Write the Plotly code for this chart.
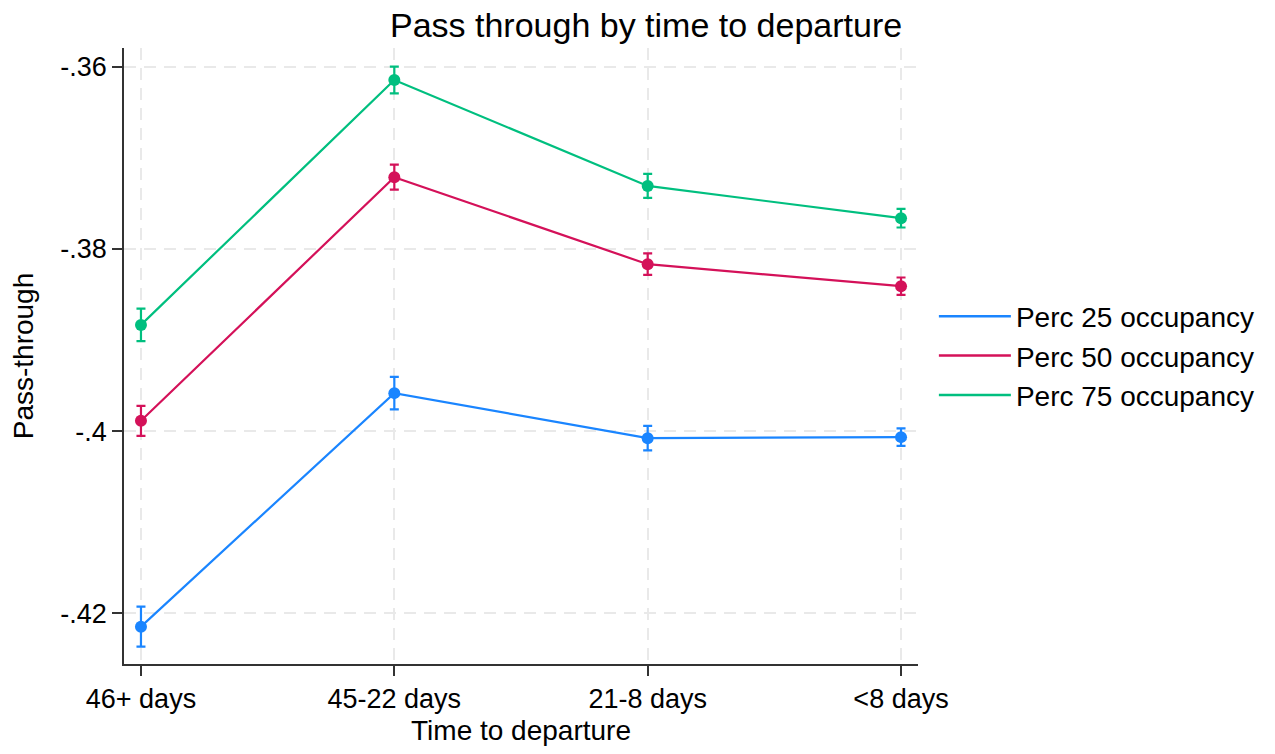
import plotly.graph_objects as go

categories = ["46+ days", "45-22 days", "21-8 days", "<8 days"]
series_names = ["Perc 25 occupancy", "Perc 50 occupancy", "Perc 75 occupancy"]
p25 = [-0.42146, -0.39583, -0.40077, -0.40066]
p25_err = [0.00219, 0.00179, 0.00135, 0.00097]
p50 = [-0.39887, -0.37213, -0.38168, -0.38409]
p50_err = [0.00165, 0.00137, 0.00118, 0.00095]
p75 = [-0.38834, -0.36146, -0.37309, -0.37663]
p75_err = [0.00178, 0.00146, 0.00132, 0.00102]
colors = ["#1a85ff", "#d41159", "#00bf7f"]
y_ticks = [-0.36, -0.38, -0.40, -0.42]
y_tick_labels = ["-.36", "-.38", "-.4", "-.42"]

xidx = list(range(len(categories)))
fig = go.Figure()
for name, vals, errs, col in zip(series_names, [p25, p50, p75], [p25_err, p50_err, p75_err], colors):
    fig.add_trace(go.Scatter(
        x=xidx, y=vals, mode="lines+markers", name=name, showlegend=False,
        line=dict(color=col, width=2.2),
        marker=dict(color=col, size=12),
        error_y=dict(type="data", array=errs, visible=True, color=col, thickness=2.2, width=4.5),
    ))
for name, col in zip(series_names, colors):
    fig.add_trace(go.Scatter(
        x=[None], y=[None], mode="lines", name=name,
        line=dict(color=col, width=2.5),
    ))

grid = dict(showgrid=True, gridcolor="#e9e9e9", griddash="12px,8px", gridwidth=2)
fig.update_layout(
    width=1267, height=746,
    margin=dict(l=116, r=357, t=40, b=90, autoexpand=False),
    paper_bgcolor="white", plot_bgcolor="white",
    font=dict(family="Liberation Sans, Arial", size=27, color="#000"),
    title=dict(text="Pass through by time to departure", x=0.5036, xref="container",
               y=0.993, yref="container", xanchor="center", yanchor="top",
               pad=dict(t=0), font=dict(size=34, color="#000")),
    legend=dict(x=1.02, xanchor="left", y=0.5, yanchor="middle",
                font=dict(size=28), itemwidth=72, tracegroupgap=0,
                bgcolor="rgba(0,0,0,0)"),
    xaxis=dict(
        range=[-0.067, 3.067], tickmode="array", tickvals=xidx, ticktext=categories,
        showline=True, linecolor="#333", linewidth=1.5, ticks="outside", ticklen=10,
        tickcolor="#333", tickwidth=1.5, zeroline=False, automargin=False, **grid,
        title=dict(text="Time to departure", font=dict(size=28), standoff=7),
    ),
    yaxis=dict(
        range=[-0.42556, -0.35795], tickmode="array", tickvals=y_ticks, ticktext=y_tick_labels,
        showline=True, linecolor="#333", linewidth=1.5, ticks="outside", ticklen=10,
        tickcolor="#333", tickwidth=1.5, zeroline=False, automargin=False, **grid,
        title=dict(text="Pass-through", font=dict(size=28), standoff=22),
    ),
)
fig.write_html("out.html")
